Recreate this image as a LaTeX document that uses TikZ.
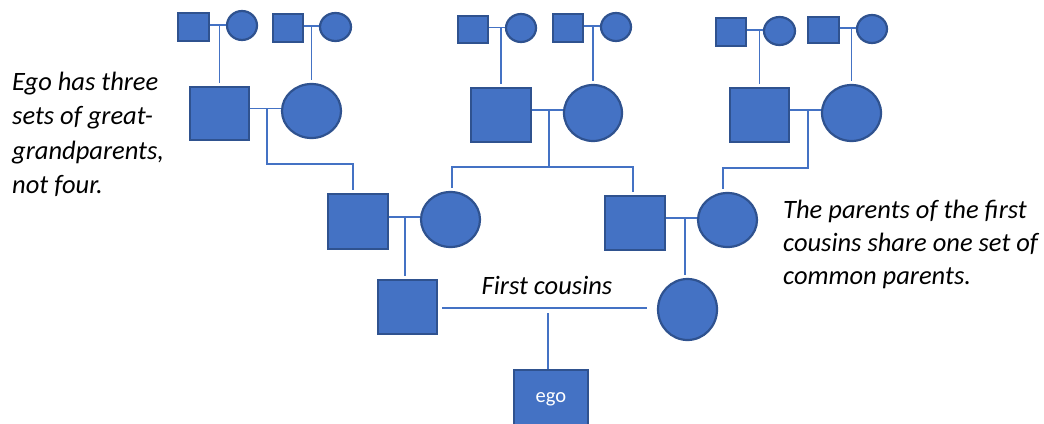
\documentclass[tikz,border=0pt]{standalone}
\usepackage{fontspec}
\setmainfont{Carlito}
\usetikzlibrary{shapes.geometric,calc}
\definecolor{pfill}{HTML}{4472C4}
\definecolor{pedge}{HTML}{2F528F}
\definecolor{pline}{HTML}{4472C4}
\tikzset{
  male/.style={rectangle, draw=pedge, fill=pfill, line width=2.2pt, inner sep=0pt},
  female/.style={ellipse, draw=pedge, fill=pfill, line width=2.2pt, inner sep=0pt},
  link/.style={draw=pline, line width=1.5pt},
  note/.style={font=\fontsize{26.5}{34.5}\selectfont\itshape, align=left, inner sep=0pt, anchor=north west},
}
\begin{document}
\begin{tikzpicture}[x=1pt,y=-1pt]
\useasboundingbox (0,0) rectangle (1044,423);
\clip (0,0) rectangle (1044,423);
% great-grandparents
\node[male,   minimum width=31pt, minimum height=28pt] (gA1) at (193.5,27) {};
\node[female, minimum width=30pt, minimum height=29pt] (gA2) at (242,25.5) {};
\node[male,   minimum width=30pt, minimum height=28pt] (gB1) at (288,28) {};
\node[female, minimum width=31pt, minimum height=28pt] (gB2) at (335.5,27) {};
\node[male,   minimum width=30pt, minimum height=27pt] (gC1) at (473,29.5) {};
\node[female, minimum width=30pt, minimum height=28pt] (gC2) at (521,28) {};
\node[male,   minimum width=30pt, minimum height=28pt] (gD1) at (568,28) {};
\node[female, minimum width=30pt, minimum height=28pt] (gD2) at (616,27) {};
\node[male,   minimum width=30pt, minimum height=28pt] (gE1) at (731,32) {};
\node[female, minimum width=31pt, minimum height=28pt] (gE2) at (779.5,31) {};
\node[male,   minimum width=31pt, minimum height=26pt] (gF1) at (823.5,30) {};
\node[female, minimum width=30pt, minimum height=28pt] (gF2) at (872,29) {};
% grandparents
\node[male,   minimum width=59pt, minimum height=53pt] (pA) at (219.5,113.5) {};
\node[female, minimum width=59pt, minimum height=54pt] (pB) at (311.5,111) {};
\node[male,   minimum width=60pt, minimum height=54pt] (pC) at (501,115) {};
\node[female, minimum width=58pt, minimum height=56pt] (pD) at (593,113) {};
\node[male,   minimum width=59pt, minimum height=54pt] (pE) at (759.5,115) {};
\node[female, minimum width=59pt, minimum height=56pt] (pF) at (851.5,113) {};
% parents
\node[male,   minimum width=60pt, minimum height=55pt] (qA) at (358,221.5) {};
\node[female, minimum width=59pt, minimum height=55pt] (qB) at (450.5,219.5) {};
\node[male,   minimum width=60pt, minimum height=54pt] (qC) at (635,223) {};
\node[female, minimum width=59pt, minimum height=54pt] (qD) at (727.5,220) {};
% cousins
\node[male,   minimum width=59pt, minimum height=54pt] (cA) at (407.5,307) {};
\node[female, minimum width=59pt, minimum height=61pt] (cB) at (687.5,309.5) {};
% ego
\node[male, minimum width=74pt, minimum height=58pt, text=white, font=\fontsize{20.5}{24}\selectfont] (ego) at (551,399) {ego};

% great-grandparent couples
\foreach \c/\k in {gA/pA,gB/pB,gC/pC,gD/pD,gE/pE,gF/pF}{
  \draw[link] ([yshift=2pt]\c1.east) -- ([yshift=2pt]\c1.east -| \c2.west);
  \draw[link] ([yshift=2pt]\k.north |- \c1.east) -- ([yshift=3pt]\k.north);
}
% grandparent couples
\draw[link] ([yshift=5pt]pA.east) -- ([yshift=5pt]pA.east -| pB.west);
\draw[link] ([yshift=5pt]pC.east) -- ([yshift=5pt]pC.east -| pD.west);
\draw[link] ([yshift=5pt]pE.east) -- ([yshift=5pt]pE.east -| pF.west);
\coordinate (mAB) at (267,108.5);
\coordinate (mCD) at (549,110);
\coordinate (mEF) at (808,110);
\coordinate (jAB) at (267,164);
\coordinate (jCD) at (549,167);
\coordinate (jEF) at (808,168);
\draw[link] (mAB) -- (jAB) -| ([xshift=-5pt,yshift=3pt]qA.north);
\draw[link] (mCD) -- (jCD);
\draw[link] ([xshift=1.5pt,yshift=3pt]qB.north) |- (jCD) -| ([xshift=-2pt,yshift=3pt]qC.north);
\draw[link] (mEF) -- (jEF) -| ([xshift=-4.5pt,yshift=3pt]qD.north);
% parent couples
\draw[link] ([yshift=4.5pt]qA.east) -- ([yshift=4.5pt]qA.east -| qB.west);
\draw[link] ([yshift=5pt]qC.east) -- ([yshift=5pt]qC.east -| qD.west);
\coordinate (mAq) at (405,217);
\coordinate (mCq) at (685,218);
\draw[link] (mAq) -- ([xshift=-2.5pt,yshift=3pt]cA.north);
\draw[link] (mCq) -- ([xshift=-2.5pt,yshift=3pt]cB.north);
% cousins
\draw[link] ([xshift=4pt,yshift=-1pt]cA.east) -- ([xshift=-10pt,yshift=-1pt]cA.east -| cB.west);
\coordinate (mC) at (548,313);
\draw[link] (mC) -- ([xshift=-3pt]ego.north);

% texts
\node[font=\fontsize{26.5}{30}\selectfont\itshape, inner sep=0pt] (fc) at (547,285) {First cousins};
\node[note] (ltext) at (12,71.8) {Ego has three\\sets of great-\\grandparents,\\not four.};
\node[note, font=\fontsize{26.5}{33}\selectfont\itshape] (rtext) at (783,199.8) {The parents of the first\\cousins share one set of\\common parents.};
\end{tikzpicture}
\end{document}
